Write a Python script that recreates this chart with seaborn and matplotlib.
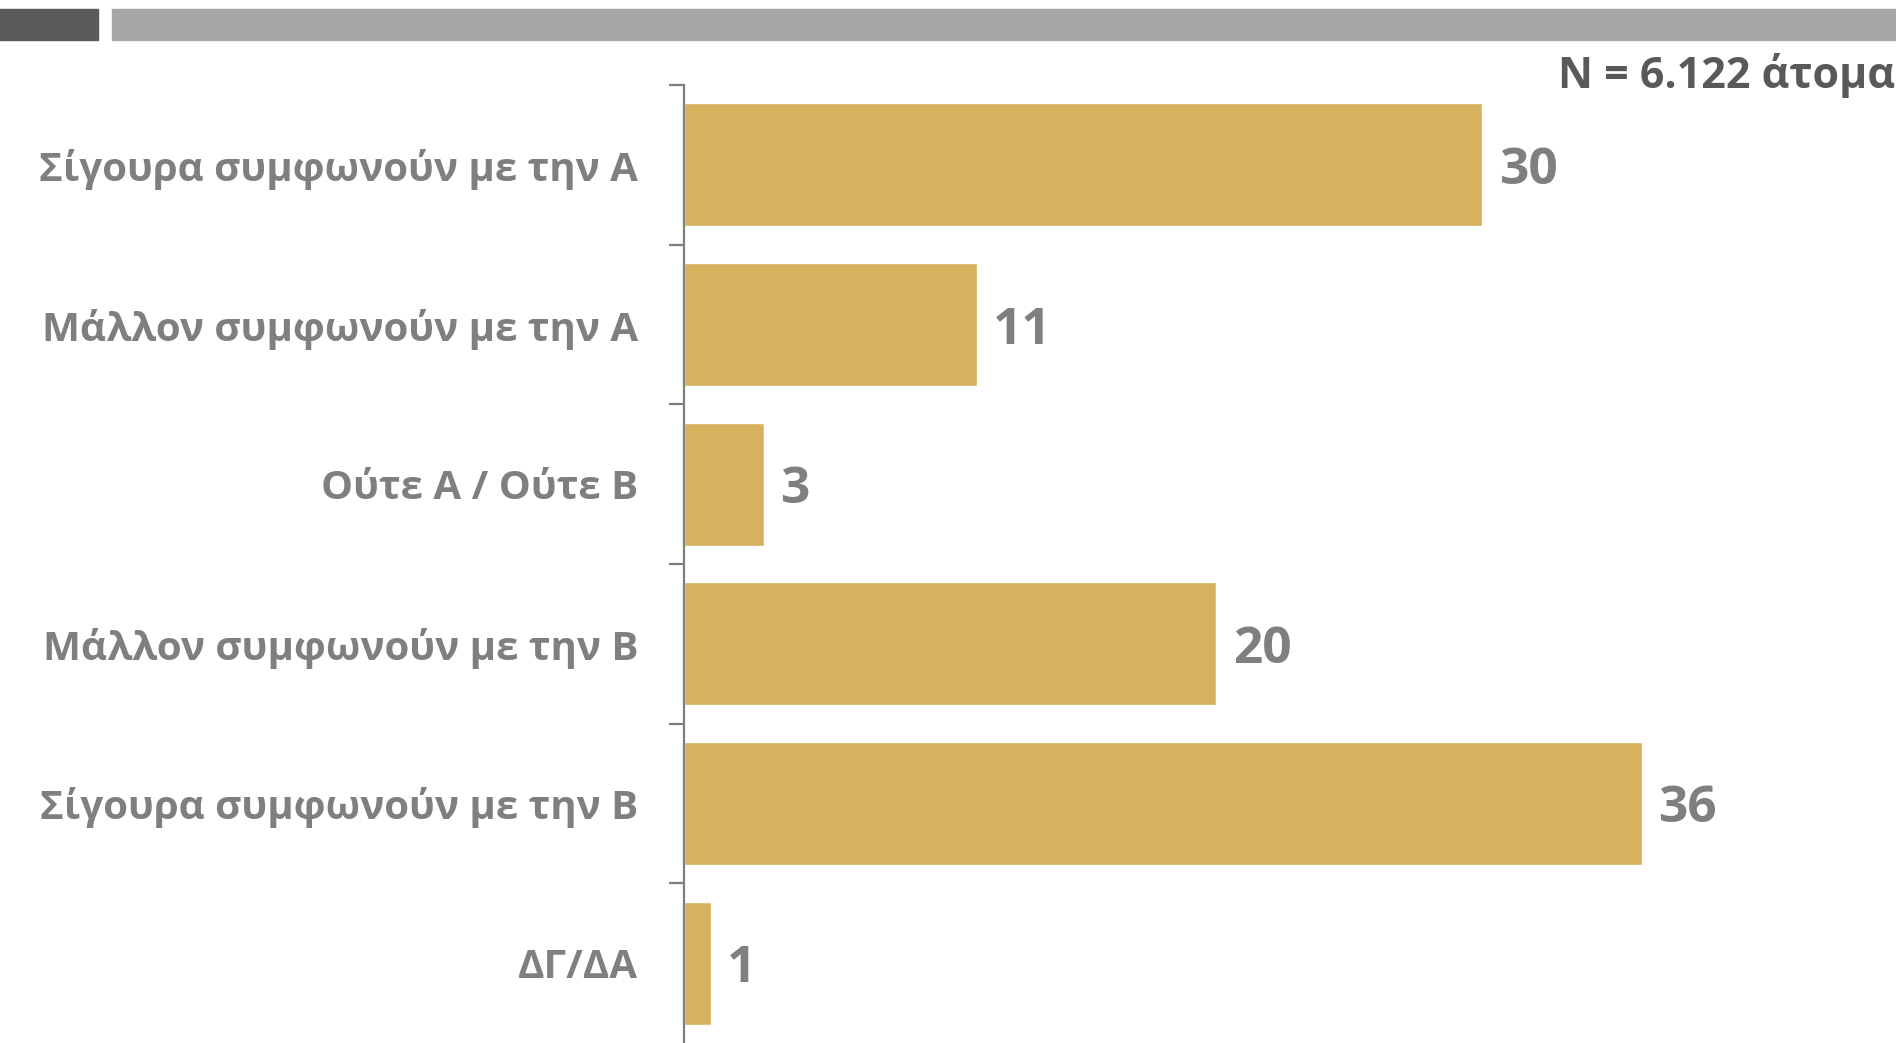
import matplotlib
matplotlib.use("Agg")
import matplotlib.pyplot as plt
from matplotlib.patches import Rectangle
from matplotlib.ticker import FixedLocator
import seaborn as sns
import pandas as pd

# data
categories = [
    "Σίγουρα συμφωνούν με την Α",
    "Μάλλον συμφωνούν με την Α",
    "Ούτε Α / Ούτε Β",
    "Μάλλον συμφωνούν με την Β",
    "Σίγουρα συμφωνούν με την Β",
    "ΔΓ/ΔΑ",
]
values = [30, 11, 3, 20, 36, 1]
sample_note = "N = 6.122 άτομα"

bar_color = "#D8B15E"
text_gray = "#7F7F7F"
dark_gray = "#595959"

sns.set_style("white")
plt.rcParams["font.family"] = ["Open Sans", "DejaVu Sans"]

df = pd.DataFrame({"cat": categories, "val": values})

fig = plt.figure(figsize=(18.96, 10.43), dpi=100)
ax = fig.add_axes([684 / 1896, 0.0, 1 - 684 / 1896, 1 - 85 / 1043])

sns.barplot(data=df, y="cat", x="val", orient="h", color=bar_color,
            saturation=1, width=0.77, ax=ax)

ax.set_xlim(0, 45.56)
ax.set_ylim(len(categories) - 0.5, -0.5)
ax.set_xlabel("")
ax.set_ylabel("")
ax.set_xticks([])

for s in ["top", "right", "bottom"]:
    ax.spines[s].set_visible(False)
ax.spines["left"].set_color(text_gray)
ax.spines["left"].set_linewidth(1.6)

# category labels, no major tick marks
ax.tick_params(axis="y", which="major", left=True, length=0, pad=33,
               labelsize=29, labelcolor=text_gray)
for lbl in ax.get_yticklabels():
    lbl.set_fontweight("bold")

# tick marks at the category boundaries
ax.yaxis.set_minor_locator(FixedLocator([i - 0.5 for i in range(len(categories))]))
ax.tick_params(axis="y", which="minor", left=True, length=11, width=1.6,
               color=text_gray, direction="out")

# value labels
for c in ax.containers:
    for t in ax.bar_label(c, fmt="%d", padding=12, fontsize=37,
                          fontweight="bold", color=text_gray):
        t.set_va("center_baseline")

# header bars
fig.patches.append(Rectangle((0, 1 - 40 / 1043), 98 / 1896, 31 / 1043,
                             transform=fig.transFigure, color=dark_gray, zorder=0))
fig.patches.append(Rectangle((112 / 1896, 1 - 40 / 1043), 1 - 112 / 1896, 31 / 1043,
                             transform=fig.transFigure, color="#A6A6A6", zorder=0))

fig.text(1895 / 1896, 1 - 70 / 1043, sample_note, ha="right",
         va="center_baseline", fontsize=31, fontweight="bold", color=dark_gray)

fig.savefig("out.png", dpi=100)
